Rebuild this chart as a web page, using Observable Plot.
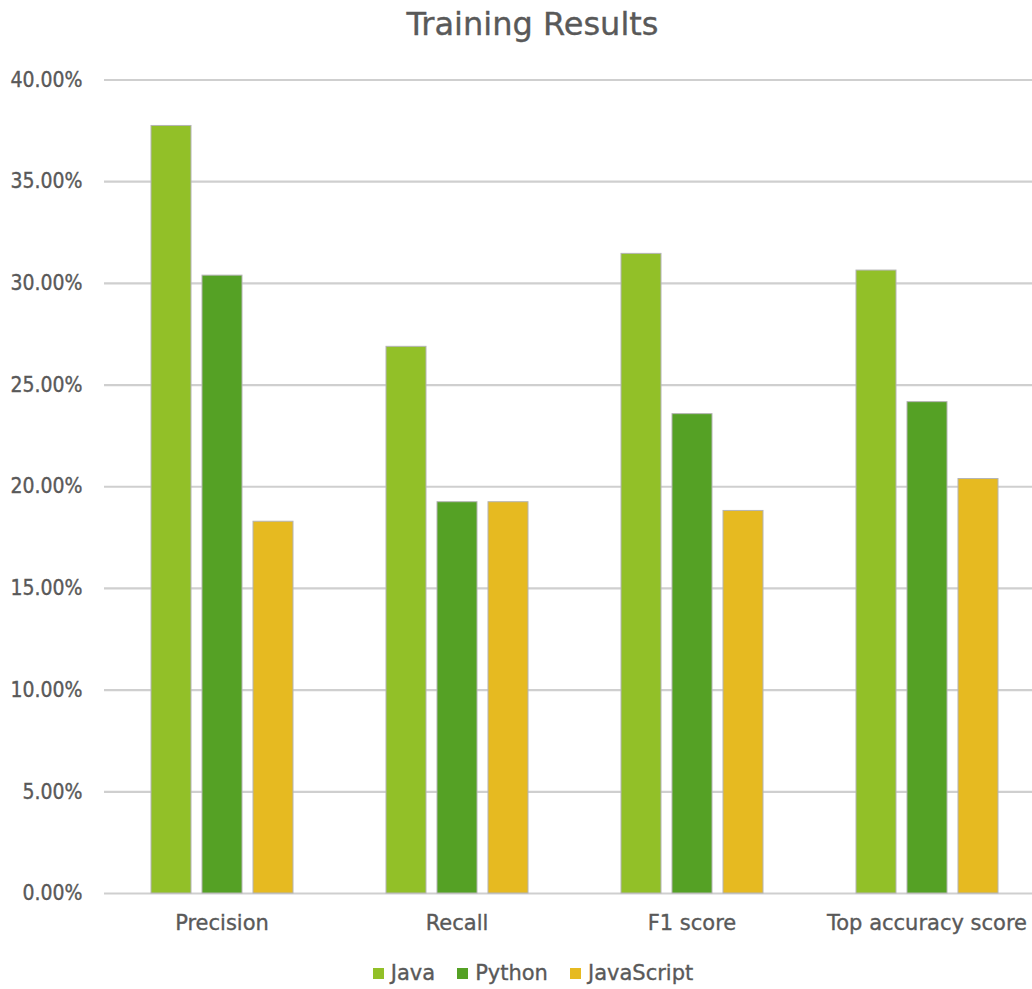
<!DOCTYPE html>
<html>
<head>
<meta charset="utf-8">
<script src="https://cdn.jsdelivr.net/npm/d3@7"></script>
<script src="https://cdn.jsdelivr.net/npm/@observablehq/plot@0.6"></script>
<style>
  html, body { margin: 0; padding: 0; background: #fff; }
  body { width: 1032px; height: 989px; overflow: hidden; font-family: "DejaVu Sans", sans-serif; color: #595959; }
  #title { height: 42px; padding-top: 8px; padding-left: 33px; font-size: 32px; line-height: 1; text-align: center; color: #595959; -webkit-text-stroke: 0.35px #595959; }
  #chart { width: 1032px; overflow: hidden; }
  #chart svg { display: block; max-width: none !important; }
  #chart svg text { stroke: #595959; stroke-width: 0.35px; }
  #legend { display: flex; justify-content: center; padding-left: 56px; margin-top: 18px; }
  #legend .lg-swatches { font-family: "DejaVu Sans", sans-serif !important; font-size: 21px !important; color: #595959 !important; display: flex; min-height: 0 !important; margin: 0 !important; -webkit-text-stroke: 0.35px #595959; }
  #legend .lg-swatch { margin-right: 22px !important; display: inline-flex; align-items: center; }
  #legend .lg-swatch svg { margin-right: 7px !important; }
</style>
</head>
<body>
<div id="title">Training Results</div>
<div id="chart"></div>
<div id="legend"></div>
<script>
// Metric categories along the x axis
const metrics = ["Precision", "Recall", "F1 score", "Top accuracy score"];
// Series (one bar per language in every group)
const languages = ["Java", "Python", "JavaScript"];
// Scores in percent, in the order of `metrics`
const javaScores = [37.74, 26.88, 31.45, 30.63];
const pythonScores = [30.38, 19.24, 23.57, 24.16];
const javascriptScores = [18.28, 19.24, 18.81, 20.38];
// Series colours
const seriesColors = ["#92C028", "#55A125", "#E6BA21"];
// Y axis tick values (percent)
const yTicks = [0, 5, 10, 15, 20, 25, 30, 35, 40];

const seriesValues = [javaScores, pythonScores, javascriptScores];
const rows = [];
metrics.forEach((metric, i) => {
  languages.forEach((language, j) => {
    rows.push({metric, language, value: seriesValues[j][i]});
  });
});

const pct = (d) => d.toFixed(2) + "%";

const chart = Plot.plot({
  width: 1044,
  height: 893,
  marginTop: 29.5,
  marginBottom: 50,
  marginLeft: 104,
  marginRight: 0,
  style: {fontFamily: "DejaVu Sans, sans-serif", fontSize: "21px", color: "#595959", background: "#fff", maxWidth: "none", overflow: "visible"},
  fx: {domain: metrics, padding: 0, label: null},
  x: {domain: languages, paddingInner: 0.2233, paddingOuter: 0.893, axis: null},
  y: {domain: [0, 40], label: null},
  color: {domain: languages, range: seriesColors},
  marks: [
    Plot.ruleY(yTicks, {stroke: "#cfcfcf", strokeWidth: 2.2}),
    Plot.barY(rows, {
      fx: "metric",
      x: "language",
      y: "value",
      fill: "language",
      stroke: "#b4b4b4",
      strokeWidth: 1
    }),
    Plot.axisY(yTicks, {
      tickSize: 0,
      tickPadding: 22,
      tickFormat: pct,
      fontFamily: "DejaVu Sans Condensed, DejaVu Sans, sans-serif",
      fontSize: 21,
      label: null
    }),
    Plot.axisFx({
      anchor: "bottom",
      tickSize: 0,
      tickPadding: 22,
      fontSize: 21,
      label: null
    })
  ]
});
document.getElementById("chart").appendChild(chart);

const legend = Plot.legend({
  color: {domain: languages, range: seriesColors},
  legend: "swatches",
  swatchSize: 11,
  className: "lg"
});
document.getElementById("legend").appendChild(legend);
</script>
</body>
</html>
